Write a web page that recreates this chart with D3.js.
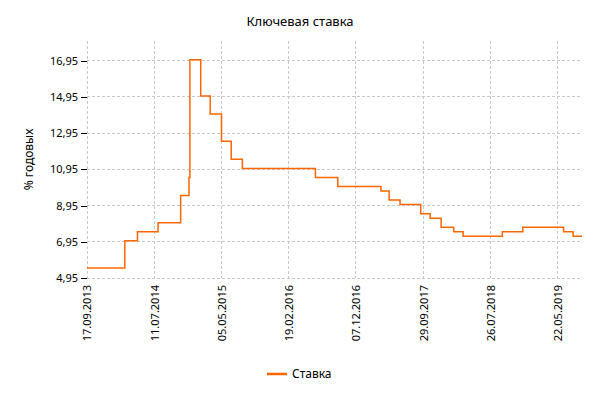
<!DOCTYPE html>
<html>
<head>
<meta charset="utf-8">
<script src="https://cdnjs.cloudflare.com/ajax/libs/d3/7.8.5/d3.min.js"></script>
<style>
  body { margin: 0; background: #fff; }
  text { font-family: 'Noto Sans', 'DejaVu Sans Condensed', sans-serif; fill: #000; }
  .grid line { stroke: #c8c8c8; stroke-dasharray: 3,2; shape-rendering: crispEdges; }
</style>
</head>
<body>
<div class="chart"></div>
<script>
// key rate changes (date, % per year)
var rateDates = ['17.09.2013', '03.03.2014', '28.04.2014', '28.07.2014', '05.11.2014',
  '12.12.2014', '16.12.2014', '02.02.2015', '16.03.2015', '05.05.2015', '16.06.2015',
  '03.08.2015', '14.06.2016', '19.09.2016', '27.03.2017', '02.05.2017', '19.06.2017',
  '18.09.2017', '30.10.2017', '18.12.2017', '12.02.2018', '26.03.2018', '17.09.2018',
  '17.12.2018', '17.06.2019', '29.07.2019', '06.09.2019'];
var rateValues = [5.5, 7, 7.5, 8, 9.5,
  10.5, 17, 15, 14, 12.5, 11.5,
  11, 10.5, 10, 9.75, 9.25, 9,
  8.5, 8.25, 7.75, 7.5, 7.25, 7.5,
  7.75, 7.5, 7.25, 7.25];

var xTickLabels = ['17.09.2013', '11.07.2014', '05.05.2015', '19.02.2016',
  '07.12.2016', '29.09.2017', '26.07.2018', '22.05.2019'];
var yTickValues = [4.95, 6.95, 8.95, 10.95, 12.95, 14.95, 16.95];

var margin = { top: 41, right: 18, bottom: 122, left: 87 };
var width = 600 - margin.left - margin.right;
var height = 400 - margin.top - margin.bottom;

var parse = d3.timeParse('%d.%m.%Y');
var data = rateDates.map((d, i) => ({ date: parse(d), value: rateValues[i] }));
var tickDates = xTickLabels.map(parse);

var svgRoot = d3.select('.chart')
  .append('svg')
    .attr('width', 600)
    .attr('height', 400);

var svg = svgRoot.append('g')
    .attr('transform', 'translate(' + margin.left + ',' + margin.top + ')');

// ticks are evenly spaced on the source chart, so map each tick date to an even slot
var n = tickDates.length - 1;
var endDate = data[data.length - 1].date;
var span = (tickDates[n] - tickDates[0]) / n;
var step = width / (n + (endDate - tickDates[n]) / span);

var xScale = d3.scaleTime()
  .domain(tickDates.concat([endDate]))
  .range(tickDates.map((d, i) => i * step).concat([width]));

var yScale = d3.scaleLinear()
  .domain([4.95, 18.03])
  .range([height, 0]);

var fmt = d3.formatLocale({ decimal: ',', thousands: ' ', grouping: [3], currency: ['', ''] }).format('.2f');

// grid
var grid = svg.append('g').attr('class', 'grid');
grid.selectAll('.h')
  .data(yTickValues)
  .enter()
  .append('line')
    .attr('x1', 0).attr('x2', width)
    .attr('y1', d => yScale(d)).attr('y2', d => yScale(d));
grid.selectAll('.v')
  .data(tickDates)
  .enter()
  .append('line')
    .attr('x1', d => xScale(d)).attr('x2', d => xScale(d))
    .attr('y1', 0).attr('y2', height);

// y axis
var yAxis = svg.append('g')
  .call(d3.axisLeft(yScale).tickValues(yTickValues).tickFormat(fmt).tickSize(6).tickPadding(3));
yAxis.select('.domain').remove();
yAxis.selectAll('.tick line').attr('stroke', '#000').attr('shape-rendering', 'crispEdges');
yAxis.selectAll('text').style('font-size', '11px').attr('fill', '#000');

// x axis
var xAxis = svg.append('g')
  .attr('transform', `translate(0, ${height})`)
  .call(d3.axisBottom(xScale).tickValues(tickDates).tickFormat((d, i) => xTickLabels[i]).tickSize(0));
xAxis.select('.domain').remove();
xAxis.selectAll('text')
  .style('font-size', '11px')
  .attr('fill', '#000')
  .attr('transform', 'rotate(-90)')
  .attr('text-anchor', 'end')
  .attr('x', -7)
  .attr('y', 0)
  .attr('dy', '0.35em');

// line
var line = d3.line()
  .x(d => xScale(d.date))
  .y(d => yScale(d.value))
  .curve(d3.curveStepAfter);

svg.append('path')
  .datum(data)
  .attr('d', line)
  .style('stroke', '#ff6600')
  .style('stroke-width', 1.5)
  .style('fill', 'none');

// title
svgRoot.append('text')
  .attr('x', 300)
  .attr('y', 26)
  .attr('text-anchor', 'middle')
  .style('font-size', '13px')
  .text('Ключевая ставка');

// y label
svgRoot.append('text')
  .attr('transform', 'translate(33,' + (margin.top + height / 2) + ') rotate(-90)')
  .attr('text-anchor', 'middle')
  .style('font-size', '12px')
  .text('% годовых');

// legend
var legend = svgRoot.append('g').attr('transform', 'translate(267,374)');
legend.append('line')
  .attr('x1', 0).attr('x2', 20)
  .attr('y1', 0).attr('y2', 0)
  .style('stroke', '#ff6600')
  .style('stroke-width', 2.5);
legend.append('text')
  .attr('x', 25)
  .attr('y', 0)
  .attr('dy', '0.35em')
  .style('font-size', '12px')
  .text('Ставка');
</script>
</body>
</html>
